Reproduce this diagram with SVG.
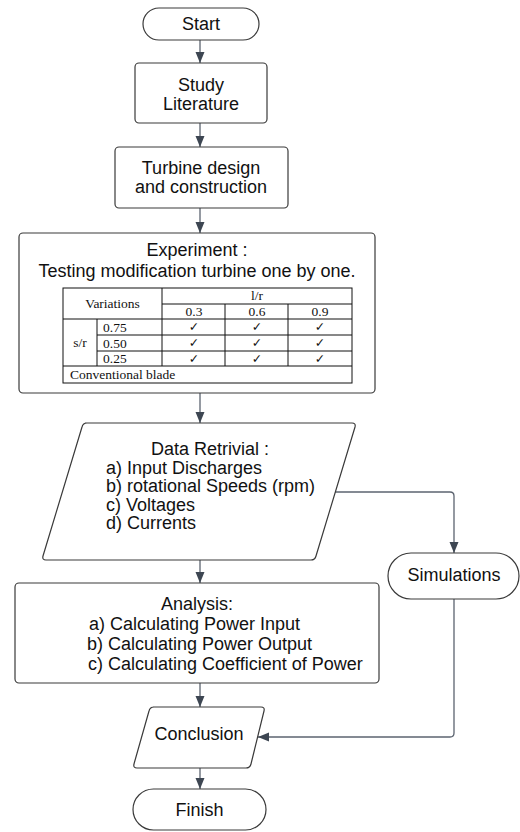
<svg xmlns="http://www.w3.org/2000/svg" width="520" height="832" viewBox="0 0 520 832">
  <defs>
    <style>
      .shape { fill: #ffffff; stroke: #3a3a3a; stroke-width: 1.2; }
      .lbl { font-family: "Liberation Sans", Arial, sans-serif; font-size: 18px; fill: #111111; }
      .mid { text-anchor: middle; }
      .conn { fill: none; stroke: #5c6470; stroke-width: 1.3; }
      .grid { fill: none; stroke: #111111; stroke-width: 1; }
      .tbl { font-family: "Liberation Serif", "Times New Roman", serif; font-size: 13.5px; fill: #111111; }
      .chk { font-family: "DejaVu Sans", sans-serif; font-size: 12.5px; fill: #111111; text-anchor: middle; }
    </style>
    <marker id="arrow" markerUnits="userSpaceOnUse" markerWidth="12" markerHeight="12" viewBox="0 0 12 12" refX="11" refY="6" orient="auto">
      <path d="M0,1.5 L11,6 L0,10.5 Z" fill="#3d4652"/>
    </marker>
  </defs>

  <rect width="520" height="832" fill="#ffffff"/>

  <!-- connectors -->
  <g id="connectors">
    <path class="conn" d="M200,40 V63" marker-end="url(#arrow)"/>
    <path class="conn" d="M200,123 V147" marker-end="url(#arrow)"/>
    <path class="conn" d="M200,208 V233" marker-end="url(#arrow)"/>
    <path class="conn" d="M200,393 V423" marker-end="url(#arrow)"/>
    <path class="conn" d="M200,560 V583" marker-end="url(#arrow)"/>
    <path class="conn" d="M200,683 V707" marker-end="url(#arrow)"/>
    <path class="conn" d="M200,768 V789" marker-end="url(#arrow)"/>
    <path class="conn" d="M335,492 H450 Q454,492 454,496 V553" marker-end="url(#arrow)"/>
    <path class="conn" d="M454,599 V733 Q454,737 450,737 H258" marker-end="url(#arrow)"/>
  </g>

  <!-- Start -->
  <g id="start">
    <rect class="shape" x="143" y="8" width="116" height="32" rx="16" ry="16"/>
    <text class="lbl mid" x="201" y="29.5">Start</text>
  </g>

  <!-- Study Literature -->
  <g id="study">
    <rect class="shape" x="135" y="63" width="132" height="60" rx="4"/>
    <text class="lbl mid" x="201" y="91">Study</text>
    <text class="lbl mid" x="201" y="110">Literature</text>
  </g>

  <!-- Turbine design -->
  <g id="turbine">
    <rect class="shape" x="115" y="147" width="173" height="61" rx="4"/>
    <text class="lbl mid" x="201" y="174">Turbine design</text>
    <text class="lbl mid" x="201" y="193">and construction</text>
  </g>

  <!-- Experiment with variation table -->
  <g id="experiment">
    <rect class="shape" x="19" y="233" width="356" height="160" rx="4"/>
    <text class="lbl mid" x="197" y="256">Experiment :</text>
    <text class="lbl mid" x="197" y="276.5">Testing modification turbine one by one.</text>
    <g id="variation-table">
      <rect class="grid" x="63" y="288" width="289" height="95"/>
      <path class="grid" d="M162,288 V366 M97,319 V366 M225,304 V366 M288,304 V366
                           M162,304 H352 M63,319 H352 M97,335 H352 M97,351 H352 M63,366 H352"/>
      <text class="tbl mid" x="112.5" y="308">Variations</text>
      <text class="tbl mid" x="257" y="300">l/r</text>
      <text class="tbl mid" x="194" y="316">0.3</text>
      <text class="tbl mid" x="257" y="316">0.6</text>
      <text class="tbl mid" x="320" y="316">0.9</text>
      <text class="tbl mid" x="80" y="347">s/r</text>
      <text class="tbl" x="103" y="331.5">0.75</text>
      <text class="tbl" x="103" y="347.5">0.50</text>
      <text class="tbl" x="103" y="363">0.25</text>
      <text class="chk" x="194" y="331">✓</text>
      <text class="chk" x="257" y="331">✓</text>
      <text class="chk" x="320" y="331">✓</text>
      <text class="chk" x="194" y="347">✓</text>
      <text class="chk" x="257" y="347">✓</text>
      <text class="chk" x="320" y="347">✓</text>
      <text class="chk" x="194" y="362.5">✓</text>
      <text class="chk" x="257" y="362.5">✓</text>
      <text class="chk" x="320" y="362.5">✓</text>
      <text class="tbl" x="70" y="379">Conventional blade</text>
    </g>
  </g>

  <!-- Data retrieval -->
  <g id="data">
    <path class="shape" d="M85,423 H352 Q356,423 355,427 L316,556 Q315,560 311,560 H46 Q42,560 43,556 L82,427 Q83,423 87,423 Z"/>
    <text class="lbl mid" x="210" y="455">Data Retrivial :</text>
    <text class="lbl" x="106" y="473.5">a) Input Discharges</text>
    <text class="lbl" x="106" y="492">b) rotational Speeds (rpm)</text>
    <text class="lbl" x="106" y="510.5">c) Voltages</text>
    <text class="lbl" x="106" y="529">d) Currents</text>
  </g>

  <!-- Simulations -->
  <g id="simulations">
    <rect class="shape" x="388" y="553" width="131" height="46" rx="23" ry="23"/>
    <text class="lbl mid" x="454" y="580.5">Simulations</text>
  </g>

  <!-- Analysis -->
  <g id="analysis">
    <rect class="shape" x="15" y="583" width="364" height="100" rx="4"/>
    <text class="lbl mid" x="197" y="610">Analysis:</text>
    <text class="lbl" x="89" y="630">a) Calculating Power Input</text>
    <text class="lbl" x="87" y="650">b) Calculating Power Output</text>
    <text class="lbl" x="88" y="670">c) Calculating Coefficient of Power</text>
  </g>

  <!-- Conclusion -->
  <g id="conclusion">
    <path class="shape" d="M153,707 H261 Q265,707 264,711 L251,764 Q250,768 246,768 H137 Q133,768 134,764 L149,711 Q150,707 154,707 Z"/>
    <text class="lbl mid" x="199" y="740">Conclusion</text>
  </g>

  <!-- Finish -->
  <g id="finish">
    <rect class="shape" x="133" y="789" width="133" height="41" rx="20.5" ry="20.5"/>
    <text class="lbl mid" x="199.5" y="816">Finish</text>
  </g>
</svg>
